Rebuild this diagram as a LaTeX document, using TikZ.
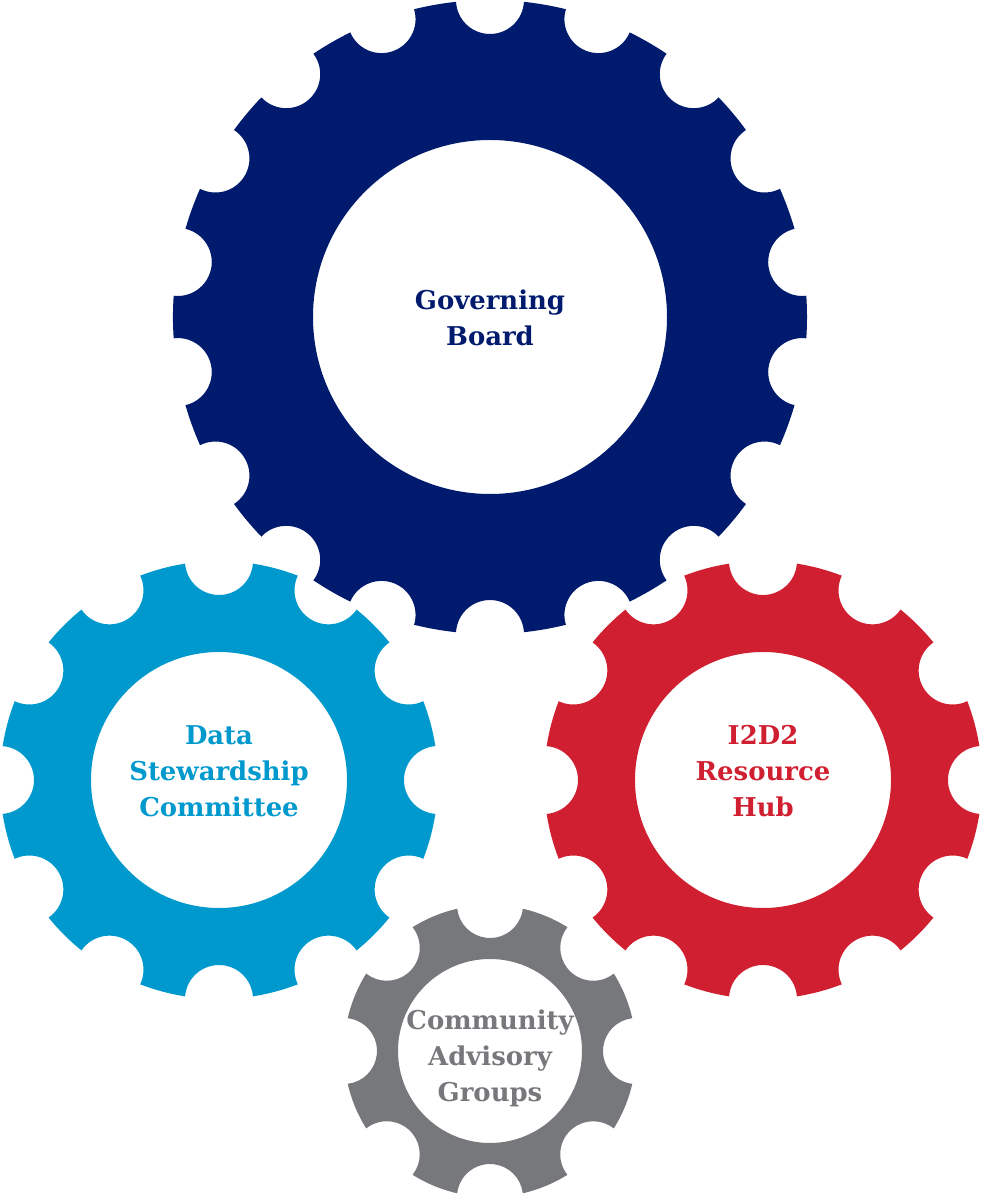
\documentclass[tikz,border=0pt]{standalone}
\usepackage{fontspec}
\setmainfont{DejaVu Serif}
\definecolor{gnavy}{HTML}{001A6E}
\definecolor{gblue}{HTML}{0099CD}
\definecolor{gred}{HTML}{D01F30}
\definecolor{ggrey}{HTML}{77787B}
\tikzset{
  gtext/.style={align=center, inner sep=0pt, font=\bfseries\fontsize{26}{36}\selectfont},
}
% #1 cx, #2 cy, #3 outer R, #4 notch r, #5 teeth, #6 first notch angle, #7 colour, #8 inner radius
\newcommand\drawgear[8]{%
  \pgfmathsetmacro\ga{2*asin(#4/(2*#3))}%
  \pgfmathsetmacro\gstep{360/#5}%
  \pgfmathtruncatemacro\glast{#5-1}%
  \begin{scope}[shift={(#1,#2)}]
    \fill[#7, even odd rule] ({#6-\ga}:#3)
      \foreach \k in {0,...,\glast} {
        arc[start angle={#6+\k*\gstep+270-\ga/2}, end angle={#6+\k*\gstep+90+\ga/2}, radius=#4]
        arc[start angle={#6+\k*\gstep+\ga}, end angle={#6+(\k+1)*\gstep-\ga}, radius=#3]
      } -- cycle
      (0,0) circle[radius=#8];
  \end{scope}
}
\begin{document}
\begin{tikzpicture}[x=1bp, y=1bp]
\useasboundingbox (0,0) rectangle (982,1198);
\drawgear{490}{881}{317}{34}{18}{90}{gnavy}{177}
\drawgear{219}{418}{219}{34}{12}{90}{gblue}{128}
\drawgear{763}{418}{219}{34}{12}{90}{gred}{128}
\drawgear{490}{147}{146}{33}{8}{90}{ggrey}{92}
\node[gtext, text=gnavy] (gb) at (490,880) {Governing\\Board};
\node[gtext, text=gblue] (ds) at (219,427) {Data\\Stewardship\\Committee};
\node[gtext, text=gred] (hub) at (763,427) {I2D2\\Resource\\Hub};
\node[gtext, text=ggrey] (cag) at (490,140) {Community\\Advisory\\Groups};
\end{tikzpicture}
\end{document}
